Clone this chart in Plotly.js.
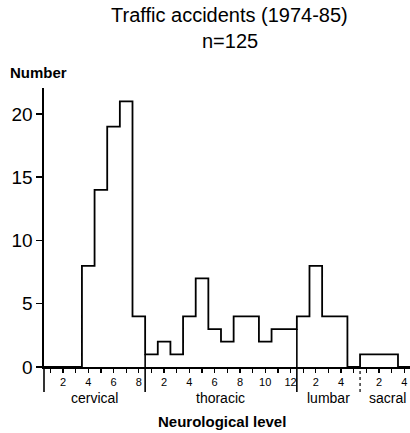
<!DOCTYPE html>
<html>
<head>
<meta charset="utf-8">
<script src="https://cdn.plot.ly/plotly-3.0.1.min.js"></script>
<style>html,body{margin:0;padding:0;background:#fff}#chart{width:410px;height:433px}</style>
</head>
<body>
<div id="chart"></div>
<script>
// Data (number of patients by neurological level)
const sectionNames = ["cervical", "thoracic", "lumbar", "sacral"];
const cervical = [0, 0, 0, 8, 14, 19, 21, 4];
const thoracic = [1, 2, 1, 4, 7, 3, 2, 4, 4, 2, 3, 3];
const lumbar = [4, 8, 4, 4, 0];
const sacral = [1, 1, 1, 0];
const sectionLabelEvery = 2;
const yTickVals = [0, 5, 10, 15, 20];
const titleLine1 = "Traffic accidents (1974-85)";
const titleLine2 = "n=125";
const yTitle = "Number";
const xTitle = "Neurological level";

const sections = [cervical, thoracic, lumbar, sacral];

// Build continuous positions
let pos = 1;
const edgesX = [], edgesY = [];
const tickvals = [], ticktext = [];
const sectionBounds = [];
sections.forEach(function (arr) {
  const start = pos - 0.5;
  arr.forEach(function (v, i) {
    edgesX.push(pos - 0.5);
    edgesY.push(v);
    tickvals.push(pos);
    ticktext.push(((i + 1) % sectionLabelEvery === 0) ? String(i + 1) : "");
    pos++;
  });
  sectionBounds.push([start, pos - 0.5]);
});
edgesX.push(pos - 0.5);
edgesY.push(edgesY[edgesY.length - 1]);

const font = "'Liberation Sans', Arial, Helvetica, sans-serif";
const below = -0.09;

const shapes = [
  {type: "line", xref: "paper", yref: "paper", x0: 0, x1: 0, y0: below, y1: 0,
   line: {color: "#000", width: 1.6}}
];
for (let s = 0; s < sections.length - 1; s++) {
  const bx = sectionBounds[s][1];
  const left = sections[s][sections[s].length - 1];
  const right = sections[s + 1][0];
  const dotted = s === sections.length - 2;
  shapes.push({type: "line", xref: "x", yref: "paper", x0: bx, x1: bx, y0: below, y1: 0,
    line: {color: "#000", width: dotted ? 1.2 : 1.6, dash: dotted ? "dot" : "solid"}});
  const m = Math.min(left, right);
  if (m > 0) {
    shapes.push({type: "line", xref: "x", yref: "y", x0: bx, x1: bx, y0: 0, y1: m,
      line: {color: "#000", width: 1.6}});
  }
}

const sectionCenters = sectionBounds.map(function (b) { return (b[0] + b[1]) / 2; });
const annotations = [
  {text: titleLine1, xref: "paper", yref: "paper", x: 0.508, y: (367 - 14.5) / 279, xanchor: "center", yanchor: "middle",
   showarrow: false, font: {family: font, size: 20, color: "#000"}},
  {text: titleLine2, xref: "paper", yref: "paper", x: 0.508, y: (367 - 40.5) / 279, xanchor: "center", yanchor: "middle",
   showarrow: false, font: {family: font, size: 20, color: "#000"}},
  {text: "<b>" + yTitle + "</b>", xref: "paper", yref: "paper", x: -0.098, y: 1.057, xanchor: "left", yanchor: "middle",
   showarrow: false, font: {family: font, size: 15, color: "#000"}},
  {text: "<b>" + xTitle + "</b>", xref: "paper", yref: "paper", x: 0.486, y: -0.197, xanchor: "center", yanchor: "middle",
   showarrow: false, font: {family: font, size: 15, color: "#000"}}
];
sectionNames.forEach(function (name, i) {
  annotations.push({text: name, xref: "x", yref: "paper", x: sectionCenters[i] + (i === 3 ? 0.15 : 0), y: -0.112,
    xanchor: "center", yanchor: "middle", showarrow: false,
    font: {family: font, size: 14, color: "#000"}});
});

const trace = {
  x: edgesX, y: edgesY, type: "scatter", mode: "lines",
  line: {shape: "hv", color: "#000", width: 1.8},
  hoverinfo: "skip", showlegend: false
};

const layout = {
  width: 410, height: 433,
  margin: {l: 44, r: 0, t: 88, b: 66},
  paper_bgcolor: "#fff", plot_bgcolor: "#fff",
  showlegend: false,
  xaxis: {
    range: [0.5, 29.45], showgrid: false, zeroline: false,
    showline: true, linecolor: "#000", linewidth: 2,
    tickmode: "array", tickvals: tickvals, ticktext: ticktext,
    ticks: "outside", ticklen: 4, tickwidth: 1.3, tickcolor: "#000",
    tickfont: {family: font, size: 11, color: "#000"}, fixedrange: true
  },
  yaxis: {
    range: [0, 22.05], showgrid: false, zeroline: false,
    showline: true, linecolor: "#000", linewidth: 1.6,
    tickmode: "array", tickvals: yTickVals,
    ticks: "outside", ticklen: 6, tickwidth: 1.5, tickcolor: "#000",
    tickfont: {family: font, size: 19, color: "#000"}, fixedrange: true
  },
  shapes: shapes,
  annotations: annotations
};

Plotly.newPlot("chart", [trace], layout, {displayModeBar: false, staticPlot: true});
</script>
</body>
</html>
